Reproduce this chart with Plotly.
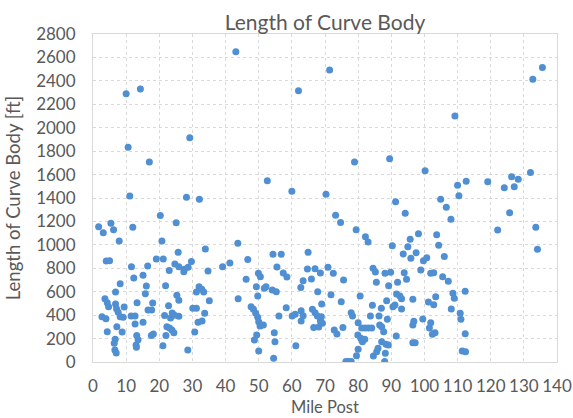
import plotly.graph_objects as go

# Mile post of each curve and the length of its body (ft)
mile_post = [
    10.0, 14.3, 10.6, 17.0, 29.2, 11.1, 28.2, 32.1,
    20.3, 1.7, 3.1, 5.4, 6.2, 12.0, 25.1, 7.9, 20.8, 25.7, 33.9, 4.0, 5.0, 19.1, 21.2,
    24.7, 25.9, 27.6, 28.7, 27.4, 29.7, 11.6, 16.5, 23.0, 34.7, 39.1, 12.3, 15.1, 8.2,
    16.1, 21.9, 6.8, 15.8, 25.3, 25.9, 31.2, 32.0, 32.8, 33.4, 35.1, 3.6, 4.3, 4.7,
    6.8, 7.1, 7.6, 8.2, 9.1, 9.4, 13.3, 18.0, 16.6, 17.7, 2.7, 3.9, 11.5, 12.7, 12.7,
    15.1, 21.6, 22.8, 23.9, 23.4, 24.6, 25.9, 22.3, 23.1, 23.8, 24.4, 22.0, 30.1, 31.2,
    31.7, 32.9, 33.7, 30.7, 28.6, 21.1, 17.6, 18.2, 13.2, 13.6, 13.0, 13.1, 8.8, 7.2,
    4.3, 6.7, 6.4, 6.6, 7.0,
    43.1, 71.4, 62.0, 78.9, 52.6, 60.0, 70.3,
    73.2, 74.7, 79.4, 82.2, 83.0, 43.7, 41.3, 46.7, 54.3, 56.8, 64.9, 55.5, 57.4, 58.5,
    64.7, 67.0, 68.6, 70.9, 72.5, 46.2, 49.9, 50.5, 49.3, 51.7, 52.2, 54.1, 55.3, 63.4,
    65.9, 62.7, 75.6, 67.8, 71.8, 43.8, 49.7, 47.7, 48.4, 49.1, 49.7, 50.0, 50.4, 51.4,
    49.4, 48.7, 50.0, 54.5, 54.7, 54.9, 56.1, 58.3, 61.2, 60.1, 61.0, 62.8, 63.4, 62.8,
    66.2, 67.0, 67.7, 68.6, 69.2, 66.6, 68.1, 68.9, 69.0, 74.9, 72.8, 73.6, 75.4, 80.6,
    77.9, 78.3, 80.0, 81.1, 82.1, 83.1, 84.1, 79.9, 80.8, 81.3, 82.0, 80.0, 79.5, 76.3,
    77.1, 77.9, 83.7, 84.3, 84.5, 85.2, 85.5, 84.6,
    91.3, 94.2, 104.9, 106.6, 108.0, 110.4, 125.7, 122.1, 133.6, 134.1, 98.2, 103.7,
    95.7, 90.3, 95.0, 104.3, 93.6, 95.9, 97.5, 99.7, 100.7, 106.0, 88.1, 89.8, 93.9,
    94.6, 98.9, 101.9, 102.8, 105.5, 107.2, 89.2, 91.9, 112.3, 108.6, 109.0, 91.6, 92.6,
    93.1, 88.6, 96.5, 103.4, 101.2, 102.8, 90.5, 91.1, 87.0, 93.1, 108.1, 86.3, 88.8,
    86.5, 87.1, 87.7, 96.8, 96.5, 99.5, 101.9, 101.5, 102.4, 103.2, 96.5, 97.2, 91.5,
    110.8, 111.0, 112.3, 111.4, 112.4, 87.1, 88.4, 89.1, 85.6, 86.0, 88.2, 88.0,
    135.6, 132.7, 109.2, 89.5, 100.2, 110.0, 112.6, 119.1, 124.1, 126.3, 127.1, 128.3,
    132.0,
]

curve_length_ft = [
    2290, 2330, 1833, 1707, 1915, 1417, 1406, 1389,
    1250, 1155, 1104, 1184, 1130, 1150, 1189, 1033, 1033, 936, 965, 862, 865, 880, 880,
    837, 814, 791, 808, 771, 857, 814, 819, 782, 777, 814, 717, 740, 668,
    649, 651, 598, 583, 569, 527, 598, 642, 620, 598, 523, 540, 506, 472,
    495, 455, 424, 387, 381, 469, 506, 503, 444, 444, 387, 370, 393, 393, 324,
    339, 398, 481, 418, 375, 400, 390, 301, 290, 273, 250, 227, 458, 458,
    339, 350, 416, 256, 102, 139, 227, 239, 227, 190, 145, 125, 256, 301,
    259, 194, 160, 102, 77,
    2649, 2492, 2316, 1707, 1548, 1457, 1431,
    1252, 1190, 1130, 1070, 1024, 1013, 845, 876, 919, 919, 936, 811, 760, 726,
    794, 797, 760, 808, 757, 706, 757, 728, 642, 629, 642, 615, 600, 694,
    709, 637, 700, 600, 574, 540, 563, 472, 450, 416, 381, 344, 307, 316,
    230, 188, 94, 31, 250, 173, 393, 464, 139, 393, 407, 438, 395, 350,
    450, 421, 393, 350, 330, 295, 299, 387, 495, 515, 273, 239, 295, 563,
    421, 393, 335, 290, 290, 290, 290, 230, 202, 173, 194, 108, 54, 5,
    5, 5, 393, 484, 800, 768, 680, 51,
    1368, 1269, 1389, 1320, 1218, 1420, 1275, 1127, 1150, 962, 1095, 1087,
    1047, 993, 984, 996, 922, 885, 933, 865, 891, 900, 757, 766, 762,
    706, 785, 757, 762, 728, 689, 651, 680, 603, 586, 544, 580, 563,
    540, 523, 535, 557, 512, 489, 472, 487, 458, 452, 452, 393, 364,
    316, 301, 259, 347, 316, 367, 335, 290, 236, 250, 165, 165, 222,
    416, 364, 242, 94, 88, 173, 151, 145, 88, 117, 74, 5,
    2515, 2413, 2100, 1736, 1633, 1508, 1542, 1539, 1488, 1582, 1497, 1559,
    1617,
]

x_ticks = list(range(0, 141, 10))
y_ticks = list(range(0, 2801, 200))

TEXT = "#595959"
GRID = "#d9d9d9"
FONT = "Lato"
PLOT_TOP, PLOT_BOTTOM = 34, 56
PLOT_HEIGHT = 418 - PLOT_TOP - PLOT_BOTTOM

fig = go.Figure(
    go.Scatter(
        x=mile_post,
        y=curve_length_ft,
        mode="markers",
        marker=dict(color="#4f8fd2", size=7, line=dict(width=0)),
        hoverinfo="x+y",
    )
)

axis_common = dict(
    showgrid=True,
    gridcolor=GRID,
    griddash="dot",
    gridwidth=1,
    showline=True,
    linecolor=GRID,
    linewidth=1,
    mirror=True,
    zeroline=False,
    ticks="",
    automargin=False,
    tickfont=dict(family=FONT, size=17, color=TEXT),
)

fig.update_layout(
    width=573,
    height=418,
    margin=dict(l=93, r=16, t=PLOT_TOP, b=PLOT_BOTTOM),
    paper_bgcolor="white",
    plot_bgcolor="white",
    showlegend=False,
    title=dict(
        text="Length of Curve Body",
        font=dict(family=FONT, size=21, color=TEXT),
        x=325 / 573,
        xanchor="center",
        y=1 - 23 / 418,
        yanchor="middle",
        xref="container",
        yref="container",
    ),
    xaxis=dict(
        axis_common,
        range=[0, 140],
        tickvals=x_ticks,
        ticklabelstandoff=9,
    ),
    yaxis=dict(
        axis_common,
        range=[0, 2800],
        tickvals=y_ticks,
        ticklabelstandoff=13,
        title=dict(text="Length of Curve Body [ft]", font=dict(family=FONT, size=18.5, color=TEXT), standoff=10),
    ),
)

# x-axis title placed just under the tick labels
fig.add_annotation(
    text="Mile Post",
    xref="paper",
    yref="paper",
    x=0.5,
    y=-(407 - (418 - PLOT_BOTTOM)) / PLOT_HEIGHT,
    xanchor="center",
    yanchor="middle",
    showarrow=False,
    font=dict(family=FONT, size=16.5, color=TEXT),
)

fig.write_html("out.html")
